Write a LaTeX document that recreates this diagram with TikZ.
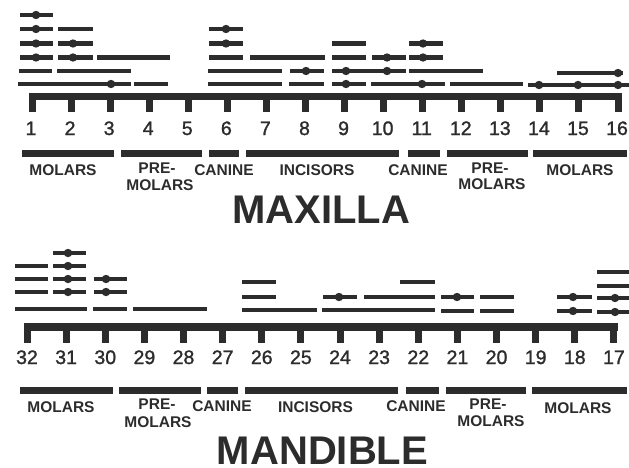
\documentclass[tikz,border=0pt]{standalone}
\usepackage{fontspec}
\setmainfont{Liberation Sans}
\newfontfamily\numfont[FakeBold=1.3]{Liberation Sans}
\definecolor{ink}{HTML}{2C2C2C}
\begin{document}
\begin{tikzpicture}[x=1pt,y=-1pt,
  seg/.style={line width=4.6pt, draw=ink},
  grpbar/.style={line width=7pt, draw=ink},
  num/.style={anchor=base, font=\numfont\fontsize{19.5}{20}\selectfont, text=ink, inner sep=0pt},
  grp/.style={anchor=base, font=\bfseries\fontsize{15.5}{16}\selectfont, text=ink, inner sep=0pt},
  jawtitle/.style={anchor=base, font=\bfseries\fontsize{40}{40}\selectfont, text=ink, inner sep=0pt, text depth=0pt}]
\useasboundingbox (0,0) rectangle (629,467);

% ---------------- upper jaw ----------------
% comb: horizontal bar with one tick per tooth
\fill[ink] (28.5,92.5) rectangle (621.5,99.5);
\foreach \i in {1,...,16}{
  \pgfmathsetmacro{\tx}{32+39.07*(\i-1)}
  \fill[ink] (\tx-3.5,92.5) rectangle (\tx+3.5,112);
  \node[num] (mx\i) at (\tx-1,135) {\i};
}
% bars above the teeth
\foreach \y/\a/\b in {15/20/53, 29/20/53, 43.5/20/53, 57.5/20/53, 71/19/52, 84/18/131,
  29/58/93, 43.5/58/93, 57.5/58/93, 71/57/131, 57.5/97/170, 84/134/168,
  29/209/243, 43.5/209/243, 57.5/209/243, 71/208/282, 84/208/282,
  57.5/250/325, 71/290/324, 84/289/324,
  43.5/332/366, 57.5/332/366, 71/332/406, 84/332/366,
  57.5/372/406, 84/371/445,
  43.5/409/443, 57.5/409/443, 71/409/483,
  84/450/523, 85/528/629, 73/557/623}
  \draw[seg] (\a,\y) -- (\b,\y);
\foreach \x/\y in {36/15, 36/29, 36/43.5, 36/57.5, 111/84, 73/43.5, 73/57.5,
  226/29, 226/43.5, 306/71, 346/71, 387/71, 346/84, 387/57.5, 422/84,
  423/43.5, 423/57.5, 539/85, 578/85, 618/85, 618/73}
  \fill[ink] (\x,\y) circle[radius=4.2pt];
% tooth groups
\foreach \a/\b in {22/114, 121/202, 209/239, 246/399, 408/440, 447/528, 533/627}
  \draw[grpbar] (\a,153.5) -- (\b,153.5);
\node[grp] (mxmolL) at (63,175) {MOLARS};
\node[grp] (mxpreL) at (157,173) {PRE-};
\node[grp] (mxpreL2) at (160,190) {MOLARS};
\node[grp] (mxcanL) at (224,175) {CANINE};
\node[grp] (mxinc) at (317,175) {INCISORS};
\node[grp] (mxcanR) at (418,175) {CANINE};
\node[grp] (mxpreR) at (490,173) {PRE-};
\node[grp] (mxpreR2) at (492,189.5) {MOLARS};
\node[grp] (mxmolR) at (580,175) {MOLARS};
\node[jawtitle] (maxilla) at (321,223) {MAXILLA};

% ---------------- lower jaw ----------------
\fill[ink] (23.5,323) rectangle (617.5,331);
\foreach \k in {1,...,16}{
  \pgfmathsetmacro{\tx}{27+39.13*(\k-1)}
  \pgfmathtruncatemacro{\tn}{33-\k}
  \fill[ink] (\tx-3.5,323) rectangle (\tx+3.5,343);
  \node[num] (md\tn) at (\tx,364) {\tn};
}
\foreach \y/\a/\b in {266/15/48, 279/15/48, 292/15/48, 309/15/87,
  253/53/86, 266/53/86, 279/53/86, 292/53/86,
  279/94/127, 292/94/127, 309/93/127, 309/133/207,
  282/242/276, 297/242/276, 310/242/317,
  297/323/357, 310/322/435, 297/364/435, 282/400/435,
  297/441/474, 311/441/474, 297/480/514, 311/480/514,
  297/557/592, 311/557/592,
  272/597/630, 286/597/630, 298/597/630, 312/597/630}
  \draw[seg] (\a,\y) -- (\b,\y);
\foreach \x/\y in {68/253, 68/266, 68/279, 68/292, 106/279, 106/292,
  339/297, 457/297, 573/297, 573/311, 615/298, 615/312}
  \fill[ink] (\x,\y) circle[radius=4.2pt];
\foreach \a/\b in {20/113, 119/201, 207/238, 245/398, 406/439, 446/526, 532/627}
  \draw[grpbar] (\a,390) -- (\b,390);
\node[grp] (mdmolL) at (61,412.5) {MOLARS};
\node[grp] (mdpreL) at (157,409.5) {PRE-};
\node[grp] (mdpreL2) at (158,427) {MOLARS};
\node[grp] (mdcanL) at (222,411) {CANINE};
\node[grp] (mdinc) at (315.5,412.5) {INCISORS};
\node[grp] (mdcanR) at (416,411) {CANINE};
\node[grp] (mdpreR) at (488,409.5) {PRE-};
\node[grp] (mdpreR2) at (491,426.5) {MOLARS};
\node[grp] (mdmolR) at (578,413) {MOLARS};
\node[jawtitle] (mandible) at (322.5,464) {MANDIBLE};
\end{tikzpicture}
\end{document}
